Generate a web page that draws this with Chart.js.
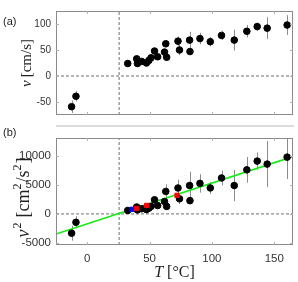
<!DOCTYPE html>
<html>
<head>
<meta charset="utf-8">
<script src="https://cdn.jsdelivr.net/npm/chart.js@4.4.1/dist/chart.umd.min.js"></script>
<style>
  html, body { margin: 0; padding: 0; background: #fff; }
  #wrap { position: relative; width: 298px; height: 282px; }
  #wrap canvas { position: absolute; left: 0; }
  #band { position: absolute; left: 56px; width: 238px; top: 125px; height: 2px; background: #dcdcdc; }
</style>
</head>
<body>
<div id="wrap">
  <div id="band"></div>
  <canvas id="chartA" width="298" height="126" style="top:0"></canvas>
  <canvas id="chartB" width="298" height="156" style="top:126px"></canvas>
</div>
<script>
// temperature of each run (deg C), same runs in both panels
const tempC = [-12.5, -9, 32.5, 39.7, 40.3, 43.7, 47.5, 49.5, 51.2, 54, 56.5, 62, 63, 63.7,
               72.8, 74, 82.1, 82.4, 90.4, 98.7, 107.7, 117.9, 128, 136.3, 144.3, 160.3];
// (a) speed v [cm/s] and its error
const speed = [-59, -39, 24, 33, 24, 28, 25, 30, 35, 48, 37, 46, 62, 36,
               67, 50, 69, 47, 72, 66, 78, 69, 86, 95, 92, 98];
const speedErr = [12, 10, 3, 6, 4, 4, 4, 4, 4, 5, 4, 5, 7, 5,
                  9, 10, 16, 6, 11, 9, 9, 20, 12, 8, 21, 19];
// (b) signed v^2 [cm^2/s^2] and its error
const speedSq = [-3350, -1460, 600, 1200, 700, 900, 750, 1000, 1300, 2450, 1450, 2150, 3900, 1300,
                 4500, 2620, 4930, 2300, 5300, 4510, 6240, 4930, 7650, 9170, 8650, 9860];
const speedSqErr = [1300, 1050, 200, 400, 250, 300, 300, 300, 350, 500, 400, 550, 1250, 400,
                    1450, 900, 2400, 550, 1600, 1050, 1300, 2700, 2240, 1500, 4000, 3800];
// highlighted runs in (b)
const redT = [39.5, 47.7, 72];
const redV2 = [950, 1480, 3230];
const blueT = [36];
const blueV2 = [800];
// linear fit in (b)
const fitT = [-25, 165];
const fitV2 = [-3500, 9950];
// onset temperature (dashed vertical)
const onsetT = 25.6;

const xRange = [-25, 165];
const yRangeA = [-75, 125];
const yRangeB = [-5400, 13200];
const xTicks = [0, 50, 100, 150];
const yTicksA = [-50, 0, 50, 100];
const yTicksB = [-5000, 0, 5000, 10000];

const pts = (xs, ys) => xs.map((x, i) => ({ x: x, y: ys[i] }));

function drawRuns(ctx, runs, x, y, angle) {
    ctx.save();
    ctx.translate(x, y);
    ctx.rotate(angle);
    ctx.textBaseline = 'middle';
    ctx.textAlign = 'left';
    let total = 0;
    runs.forEach(r => { ctx.font = r.f; r.w = ctx.measureText(r.t).width + (r.gap || 0); total += r.w; });
    let cx = -total / 2;
    runs.forEach(r => {
        ctx.font = r.f;
        ctx.fillStyle = '#222';
        ctx.fillText(r.t, cx, r.dy || 0);
        cx += r.w;
    });
    ctx.restore();
}

const SERIF = 'Liberation Serif';
const font = (px, it) => (it ? 'italic ' : '') + px + 'px ' + SERIF;

function framePlugin(opts) {
    return {
        id: 'frame',
        beforeDatasetsDraw(chart) {
            const ctx = chart.ctx, xs = chart.scales.x, ys = chart.scales.y;
            const a = chart.chartArea;
            ctx.save();
            ctx.beginPath();
            ctx.rect(a.left, a.top, a.right - a.left, a.bottom - a.top);
            ctx.clip();
            ctx.strokeStyle = '#8c8c8c';
            ctx.lineWidth = 1;
            opts.err.forEach((e, i) => {
                const px = Math.round(xs.getPixelForValue(tempC[i])) + 0.5;
                ctx.beginPath();
                ctx.moveTo(px, ys.getPixelForValue(opts.val[i] - e));
                ctx.lineTo(px, ys.getPixelForValue(opts.val[i] + e));
                ctx.stroke();
            });
            ctx.restore();
        },
        afterDraw(chart) {
            const ctx = chart.ctx, xs = chart.scales.x, ys = chart.scales.y;
            const a = chart.chartArea;
            ctx.save();
            ctx.strokeStyle = '#8a8a8a';
            ctx.lineWidth = 1;
            ctx.strokeRect(Math.round(a.left) + 0.5, Math.round(a.top) + 0.5,
                           Math.round(a.right - a.left) - 1, Math.round(a.bottom - a.top) - 1);
            ctx.strokeStyle = '#b0b0b0';
            ctx.beginPath();
            xTicks.forEach(v => {
                const p = Math.round(xs.getPixelForValue(v)) + 0.5;
                ctx.moveTo(p, a.top); ctx.lineTo(p, a.top + 3);
                ctx.moveTo(p, a.bottom); ctx.lineTo(p, a.bottom - 3);
            });
            opts.yTicks.forEach(v => {
                const p = Math.round(ys.getPixelForValue(v)) + 0.5;
                ctx.moveTo(a.left, p); ctx.lineTo(a.left + 3, p);
                ctx.moveTo(a.right, p); ctx.lineTo(a.right - 3, p);
            });
            ctx.stroke();
            ctx.fillStyle = '#222';
            ctx.font = '11px "Liberation Sans"';
            ctx.textBaseline = 'middle';
            ctx.textAlign = 'left';
            ctx.fillText(opts.tag, 3, opts.tagY);
            drawRuns(ctx, opts.yTitle, opts.yTitleX, (a.top + a.bottom) / 2 + opts.yTitleDy, -Math.PI / 2);
            if (opts.xTitle) drawRuns(ctx, opts.xTitle, (a.left + a.right) / 2, a.bottom + 28, 0);
            ctx.restore();
        }
    };
}

function dashed(data) {
    return { type: 'line', data: data, borderColor: '#6e6e6e', borderWidth: 1,
             borderDash: [3, 2], pointRadius: 0, order: 5 };
}

function makeChart(id, cfg) {
    const tickFont = { family: 'Liberation Sans', size: cfg.tickSize };
    return new Chart(document.getElementById(id), {
        type: 'scatter',
        data: { datasets: cfg.datasets },
        options: {
            responsive: false,
            animation: false,
            layout: { padding: { left: 0, right: 5, top: cfg.padTop, bottom: 0 } },
            plugins: { legend: { display: false }, tooltip: { enabled: false } },
            scales: {
                x: {
                    min: xRange[0], max: xRange[1],
                    grid: { display: false, drawTicks: false },
                    border: { display: false },
                    afterBuildTicks: s => { s.ticks = xTicks.map(v => ({ value: v })); },
                    ticks: { display: cfg.showX, padding: 7, color: '#333', font: tickFont,
                             callback: v => String(v), maxRotation: 0 },
                    afterFit: s => { s.height = cfg.xHeight; }
                },
                y: {
                    min: cfg.yRange[0], max: cfg.yRange[1],
                    grid: { display: false, drawTicks: false },
                    border: { display: false },
                    afterBuildTicks: s => { s.ticks = cfg.yTicks.map(v => ({ value: v })); },
                    ticks: { padding: 5, color: '#333', font: tickFont, callback: v => String(v) },
                    afterFit: s => { s.width = 56; }
                }
            }
        },
        plugins: [framePlugin(cfg.frame)]
    });
}

makeChart('chartA', {
    padTop: 7, xHeight: 1, showX: false, yRange: yRangeA, yTicks: yTicksA, tickSize: 10,
    datasets: [
        { data: pts(tempC, speed), backgroundColor: '#000', borderColor: '#000',
          pointRadius: 3.3, order: 1 },
        dashed([{ x: xRange[0], y: 0 }, { x: xRange[1], y: 0 }]),
        dashed([{ x: onsetT, y: yRangeA[0] }, { x: onsetT, y: yRangeA[1] }])
    ],
    frame: { err: speedErr, val: speed, yTicks: yTicksA, tag: '(a)', tagY: 22,
             yTitleX: 27, yTitleDy: 0,
             yTitle: [{ t: 'v', f: font(15, true), gap: 3 }, { t: '[cm/s]', f: font(15) }] }
});

makeChart('chartB', {
    padTop: 1.5, xHeight: 37, showX: true, yRange: yRangeB, yTicks: yTicksB, tickSize: 11.5,
    datasets: [
        { data: pts(redT, redV2), pointStyle: 'rect', backgroundColor: '#ff0000',
          borderColor: '#ff0000', pointRadius: 3, order: 0 },
        { data: pts(blueT, blueV2), pointStyle: 'rect', backgroundColor: '#0000ff',
          borderColor: '#0000ff', pointRadius: 3, order: 0 },
        { data: pts(tempC, speedSq), backgroundColor: '#000', borderColor: '#000',
          pointRadius: 3.3, order: 1 },
        { type: 'line', data: pts(fitT, fitV2), borderColor: '#11ee11', borderWidth: 1.6,
          pointRadius: 0, order: 2 },
        dashed([{ x: xRange[0], y: 0 }, { x: xRange[1], y: 0 }]),
        dashed([{ x: onsetT, y: yRangeB[0] }, { x: onsetT, y: yRangeB[1] }])
    ],
    frame: { err: speedSqErr, val: speedSq, yTicks: yTicksB, tag: '(b)', tagY: 7,
             yTitleX: 24, yTitleDy: 6,
             yTitle: [{ t: 'v', f: font(18, true), gap: 1 }, { t: '2', f: font(12), dy: -6, gap: 5 },
                      { t: '[cm', f: font(18) }, { t: '2', f: font(12), dy: -6, gap: 1 },
                      { t: '/s', f: font(18) }, { t: '2', f: font(12), dy: -6, gap: 1 }, { t: ']', f: font(18) }],
             xTitle: [{ t: 'T', f: font(16, true), gap: 4 }, { t: '[°C]', f: font(16) }] }
});
</script>
</body>
</html>
